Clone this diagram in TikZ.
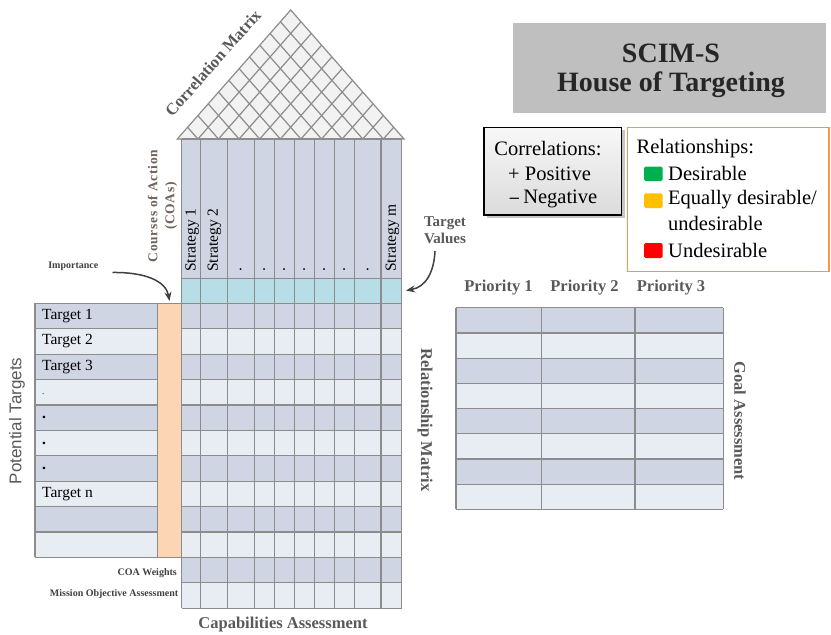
\documentclass[tikz,border=0pt]{standalone}
\usepackage{fontspec}
\setmainfont{Liberation Serif}
\newfontfamily\sansf{Liberation Sans}
\usetikzlibrary{calc,arrows.meta}
\definecolor{gridc}{HTML}{8C8C8C}
\definecolor{dkrow}{HTML}{CFD5E3}
\definecolor{ltrow}{HTML}{E8ECF3}
\definecolor{tealc}{HTML}{B7DDE6}
\definecolor{peach}{HTML}{FCD5B4}
\definecolor{roofc}{HTML}{F2F2F2}
\definecolor{txtgray}{HTML}{595959}
\definecolor{coac}{HTML}{6E6259}
\definecolor{titlebg}{HTML}{BFBFBF}
\definecolor{titletx}{HTML}{262626}
\definecolor{orangec}{HTML}{F79646}
\definecolor{greenc}{HTML}{00B050}
\definecolor{yellowc}{HTML}{FFC000}
\definecolor{redc}{HTML}{FF0000}
\definecolor{arrowc}{HTML}{404040}
\tikzset{
  gridl/.style={draw=gridc, line width=1.2pt},
  lbl/.style={font=\fontsize{15.5}{18}\selectfont, inner sep=0pt},
  hdr/.style={font=\bfseries\fontsize{16.5}{19}\selectfont, text=txtgray, inner sep=0pt},
  small/.style={font=\bfseries\fontsize{10}{12}\selectfont, text=arrowc, inner sep=0pt},
  legend/.style={font=\fontsize{20.5}{24}\selectfont, inner sep=0pt},
  curvearrow/.style={draw=arrowc, line width=1.5pt, -{Stealth[length=9pt,width=7pt]}},
}
\begin{document}
\begin{tikzpicture}[x=1pt,y=-1pt]
\useasboundingbox (0,0) rectangle (831,635);

% ---------- roof (correlation matrix)
\coordinate (L) at (177.3,139);
\coordinate (R) at (404,139);
\coordinate (A) at (290.7,10);
\filldraw[fill=roofc, gridl] (L) -- (A) -- (R) -- cycle;
\foreach \i in {1,...,10}{
  \draw[gridl] ($(L)!{\i/11}!(R)$) -- ($(R)!{1-\i/11}!(A)$);
  \draw[gridl] ($(L)!{\i/11}!(R)$) -- ($(L)!{\i/11}!(A)$);
}
\node[hdr, rotate=48.6] (corrm) at (213,63) {Correlation Matrix};

% ---------- fills of main matrix
\fill[dkrow] (181.7,139) rectangle (401.7,278.3);
\fill[tealc] (181.7,278.3) rectangle (401.7,303.3);
\foreach \i in {0,...,11}{
  \pgfmathparse{mod(\i,2)==0 ? "dkrow" : "ltrow"}
  \fill[\pgfmathresult] (181.7,{303.3+\i*25.4}) rectangle (401.7,{303.3+(\i+1)*25.4});
}
\foreach \i in {0,...,9}{
  \pgfmathparse{mod(\i,2)==0 ? "dkrow" : "ltrow"}
  \fill[\pgfmathresult] (35,{303.3+\i*25.4}) rectangle (157.3,{303.3+(\i+1)*25.4});
}
\fill[peach] (157.3,303.3) rectangle (181.7,557.3);

% ---------- grid lines of main matrix
\foreach \x in {181.7,200.7,227.3,254.3,274.3,294.3,314.3,334.3,354.3,381,401.7}
  \draw[gridl] (\x,139) -- (\x,608.1);
\draw[gridl] (181.7,139) -- (401.7,139);
\draw[gridl] (181.7,278.3) -- (401.7,278.3);
\foreach \i in {0,...,12}
  \draw[gridl] (181.7,{303.3+\i*25.4}) -- (401.7,{303.3+\i*25.4});
\foreach \i in {0,...,10}
  \draw[gridl] (35,{303.3+\i*25.4}) -- (157.3,{303.3+\i*25.4});
\draw[gridl] (35,303.3) -- (35,557.3);
\draw[gridl] (157.3,303.3) -- (157.3,557.3);
\draw[gridl] (157.3,303.3) -- (181.7,303.3);
\draw[gridl] (157.3,557.3) -- (181.7,557.3);

% ---------- strategy labels
\node[lbl, rotate=90, anchor=west] (s1) at (192.2,272) {Strategy 1};
\node[lbl, rotate=90, anchor=west] (s2) at (214.5,272) {Strategy 2};
\foreach \x [count=\k] in {240.8,264.3,284.3,304.3,324.3,344.3,367.7}
  \node[lbl, rotate=90, anchor=west] (sd\k) at (\x,272) {.};
\node[lbl, rotate=90, anchor=west] (sm) at (392.3,272) {Strategy m};

% ---------- target labels
\foreach \i/\t in {1/Target 1,2/Target 2,3/Target 3,8/Target n}
  \node[lbl, anchor=west] (t\i) at (42,{303.3+(\i-0.5)*25.4}) {\t};
\node[lbl, anchor=west, font=\fontsize{9}{10}\selectfont] (t4) at (42,{303.3+3.5*25.4+2}) {.};
\foreach \i in {5,6,7}
  \node[lbl, anchor=west, font=\bfseries\fontsize{15.5}{18}\selectfont] (t\i) at (42,{303.3+(\i-0.5)*25.4}) {.};

\node[font=\sansf\fontsize{17}{20}\selectfont, text=txtgray, rotate=90, inner sep=0pt] (pt) at (17,421) {Potential Targets};

\node[rotate=90, align=center, text=coac, inner sep=0pt,
      font=\bfseries\fontsize{13.5}{17}\selectfont\addfontfeature{LetterSpace=5}] (coa) at (162.5,206) {Courses of Action\\(COAs)};

% ---------- importance arrow
\node[small] (imp) at (73.3,266.7) {Importance};
\coordinate (impS) at (112.5,272.5);
\coordinate (impT) at (169.5,301);
\draw[curvearrow] (impS) .. controls (145,272) and (166,281) .. (impT);

% ---------- target values arrow
\node[font=\bfseries\fontsize{15}{17}\selectfont, text=txtgray, align=center, inner sep=0pt] (tv) at (445,230) {Target\\Values};
\coordinate (tvS) at (435,251);
\coordinate (tvT) at (406,290.5);
\draw[curvearrow] (tvS) .. controls (434,272) and (426,287) .. (tvT);

% ---------- bottom labels
\node[small, anchor=east] (coaw) at (177,573.3) {COA Weights};
\node[small, anchor=east] (moa) at (178.5,594.3) {Mission Objective Assessment};
\node[hdr] (capa) at (283,625) {Capabilities Assessment};
\node[hdr, rotate=-90] (relm) at (425,420) {Relationship Matrix};

% ---------- right table
\foreach \i in {0,...,7}{
  \pgfmathparse{mod(\i,2)==0 ? "dkrow" : "ltrow"}
  \fill[\pgfmathresult] (456,{307.7+\i*25.2}) rectangle (723.3,{307.7+(\i+1)*25.2});
}
\foreach \i in {0,...,8}
  \draw[gridl] (456,{307.7+\i*25.2}) -- (723.3,{307.7+\i*25.2});
\foreach \x in {456,541.7,635,723.3}
  \draw[gridl] (\x,307.7) -- (\x,509.3);
\node[hdr] (p1) at (498.5,288) {Priority 1};
\node[hdr] (p2) at (584.5,288) {Priority 2};
\node[hdr] (p3) at (671,288) {Priority 3};
\node[hdr, rotate=-90] (goal) at (740,421) {Goal Assessment};

% ---------- title
\fill[titlebg] (513.3,22.7) rectangle (826,112.7);
\node[font=\bfseries\fontsize{28}{32}\selectfont, text=titletx, inner sep=0pt] (title1) at (671,53) {SCIM-S};
\node[font=\bfseries\fontsize{28}{32}\selectfont, text=titletx, inner sep=0pt] (title2) at (671,85) {House of Targeting};

% ---------- correlations legend
\fill[gray!45] (487,130.3) rectangle (624.7,218);
\shade[top color=gray!6, bottom color=gray!28] (484,127.3) rectangle (621.7,215);
\draw[black, line width=1.5pt] (484,127.3) rectangle (621.7,215);
\node[legend] (corr) at (548,149) {Correlations:};
\node[legend, anchor=west] (pos) at (508,173.5) {+ Positive};
\node[legend, anchor=west] (neg) at (508,198.5) {\fontspec{DejaVu Serif}\fontsize{15}{18}\selectfont −\,\fontspec{Liberation Serif}\fontsize{20.5}{24}\selectfont Negative};

% ---------- relationships legend
\filldraw[fill=white, draw=orangec, line width=1.5pt] (627.3,127.3) rectangle (829,271.7);
\node[legend, anchor=west] (rel) at (636.5,149) {Relationships:};
\fill[greenc, rounded corners=1.5pt] (644,166.5) rectangle (662.5,181);
\fill[yellowc, rounded corners=1.5pt] (644,193.3) rectangle (662.5,208);
\fill[redc, rounded corners=1.5pt] (644,243) rectangle (662.5,258);
\node[legend, anchor=west] (des) at (668,173.5) {Desirable};
\node[legend, anchor=west] (eq1) at (668,199.5) {Equally desirable/};
\node[legend, anchor=west] (eq2) at (668,223.5) {undesirable};
\node[legend, anchor=west] (und) at (668,250) {Undesirable};
\end{tikzpicture}
\end{document}
